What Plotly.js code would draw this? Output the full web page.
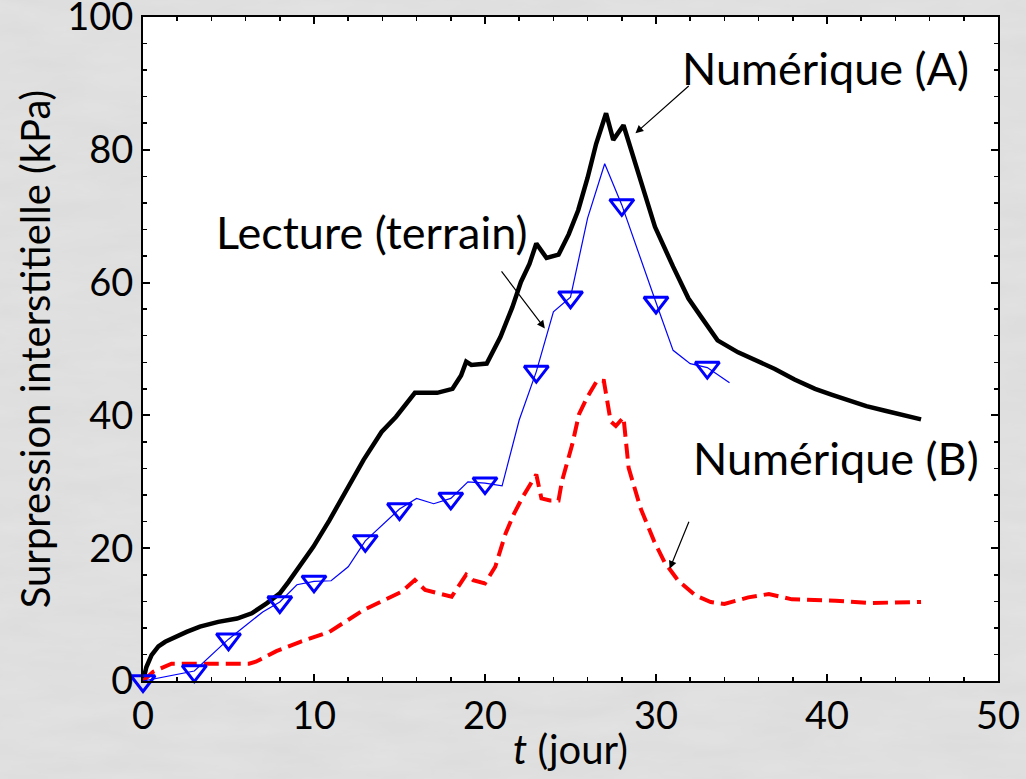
<!DOCTYPE html>
<html>
<head>
<meta charset="utf-8">
<script src="https://cdn.plot.ly/plotly-3.0.1.min.js"></script>
<style>
html,body{margin:0;padding:0;}
body{
  background-color:#e3e3e3;
  background-image:url("data:image/svg+xml;utf8,<svg xmlns='http://www.w3.org/2000/svg' width='1026' height='779'><filter id='n'><feTurbulence type='fractalNoise' baseFrequency='0.012 0.05' numOctaves='4' seed='7'/><feColorMatrix values='0 0 0 0 0.45 0 0 0 0 0.45 0 0 0 0 0.45 0 0 0 0.16 0'/></filter><rect width='100%' height='100%' filter='url(%23n)'/></svg>");
}
#chart{width:1026px;height:779px;}
</style>
</head>
<body>
<div id="chart"></div>
<script>
// Numérique (A)
const numA_t = [0, 0.2, 0.5, 0.9, 1.3, 1.7, 2.55, 3.33, 4.4, 5.5, 6.36, 7.23, 8.0, 8.5, 9.0, 9.5, 9.96, 10.9, 11.9, 12.9, 13.95, 14.8, 15.9, 17.2, 18.1, 18.6, 18.9, 19.2, 20.1, 20.9, 21.6, 22.1, 22.6, 23.0, 23.6, 24.3, 24.9, 25.45, 26.0, 26.5, 27.08, 27.5, 28.1, 28.3, 29.06, 29.94, 31.0, 31.9, 32.65, 33.6, 34.8, 35.8, 36.95, 38.1, 39.3, 40.3, 41.3, 42.3, 43.4, 44.4, 45.5];
const numA_v = [0, 2.1, 3.9, 5.2, 5.9, 6.4, 7.4, 8.2, 8.9, 9.4, 10.2, 11.7, 13.2, 14.9, 16.7, 18.4, 20.2, 24.2, 28.8, 33.3, 37.5, 39.8, 43.4, 43.4, 44.0, 46.0, 48.1, 47.6, 47.8, 51.8, 56.3, 60.1, 62.8, 65.9, 63.7, 64.2, 67.3, 70.9, 75.8, 80.9, 85.5, 81.5, 83.7, 82.0, 76.0, 68.4, 62.4, 57.6, 54.8, 51.3, 49.5, 48.3, 47.0, 45.4, 44.0, 43.1, 42.2, 41.4, 40.7, 40.0, 39.4];

// Numérique (B)
const numB_t = [0, 0.6, 1.67, 6.2, 6.6, 7.8, 9.2, 10.9, 12.9, 13.9, 15.1, 15.9, 16.5, 18.05, 18.9, 19.3, 20.0, 20.6, 21.2, 21.7, 22.2, 23.0, 23.3, 23.8, 24.3, 24.5, 25.1, 25.5, 25.97, 26.57, 26.95, 27.35, 27.65, 28.1, 28.4, 29.1, 29.9, 30.5, 31.3, 32.3, 33.2, 34.0, 35.4, 36.6, 37.95, 40.5, 42.5, 45.5];
const numB_v = [0, 1.4, 2.6, 2.6, 2.9, 4.5, 5.9, 7.4, 10.7, 11.9, 13.4, 15.2, 13.7, 12.7, 16.0, 15.2, 14.7, 17.2, 22.2, 25.2, 27.7, 31.1, 27.5, 27.2, 27.2, 30.1, 35.6, 40.2, 42.7, 45.3, 45.2, 39.1, 38.4, 39.7, 32.1, 26.0, 21.0, 17.9, 15.1, 12.9, 11.9, 11.6, 12.6, 13.1, 12.3, 12.1, 11.75, 11.9];

// Lecture (terrain) – line
const lect_t = [0, 3, 5, 7, 8, 9, 10, 11, 12, 13, 15, 16, 17, 18, 19, 20, 21, 22, 23, 24, 25, 26, 27, 28, 30, 31, 32, 33, 34.3];
const lect_v = [0, 1.5, 6.3, 10.4, 11.9, 14.5, 15.0, 15.1, 17.2, 21.1, 25.9, 27.5, 26.7, 27.5, 30.0, 29.8, 29.4, 39.3, 46.6, 55.6, 57.8, 69.7, 77.9, 71.7, 57.0, 49.8, 47.8, 47.2, 44.9];
// Lecture (terrain) – marked readings
const mark_t = [0, 3, 5, 8, 10, 13, 15, 18, 20, 23, 25, 28, 30, 33];
const mark_v = [0, 1.5, 6.3, 11.9, 15.0, 21.1, 25.9, 27.5, 29.8, 46.6, 57.8, 71.7, 57.0, 47.2];

const xTicks = [0, 10, 20, 30, 40, 50];
const yTicks = [0, 20, 40, 60, 80, 100];

const FONT = 'Lato, "Open Sans", sans-serif';

const traces = [
  {x: numA_t, y: numA_v, mode: 'lines', line: {color: '#000000', width: 4.5}, hoverinfo: 'skip'},
  {x: numB_t, y: numB_v, mode: 'lines', line: {color: '#ff0000', width: 4, dash: '15px,7px'}, hoverinfo: 'skip'},
  {x: lect_t, y: lect_v, mode: 'lines', line: {color: '#0000ff', width: 1.2}, hoverinfo: 'skip'},
  {x: mark_t, y: mark_v, mode: 'markers', marker: {symbol: 'triangle-down-open', size: 21, color: '#0000ff', line: {color: '#0000ff', width: 3}}, hoverinfo: 'skip', cliponaxis: false}
];

const axisCommon = {
  showgrid: false, zeroline: false,
  showline: true, linecolor: '#000', linewidth: 2, mirror: 'ticks',
  ticks: 'inside', ticklen: 7, tickwidth: 2, tickcolor: '#000',
  ticklabeloverflow: 'allow',
  tickfont: {family: FONT, size: 38, color: '#000'}
};

const layout = {
  width: 1026, height: 779,
  margin: {l: 143, r: 28, t: 17, b: 98},
  paper_bgcolor: 'rgba(0,0,0,0)',
  plot_bgcolor: '#ffffff',
  showlegend: false,
  xaxis: Object.assign({}, axisCommon, {
    range: [0, 50], tickvals: xTicks, ticktext: xTicks.map(String),
    minor: {dtick: 2, tick0: 0, ticks: 'inside', ticklen: 4, tickwidth: 1.5, tickcolor: '#000'},
    title: {text: '<i>t</i> (jour)', font: {family: FONT, size: 40, color: '#000'}, standoff: 0}
  }),
  yaxis: Object.assign({}, axisCommon, {
    range: [0, 100], tickvals: yTicks, ticktext: yTicks.map(String),
    minor: {dtick: 4, tick0: 0, ticks: 'inside', ticklen: 4, tickwidth: 1.5, tickcolor: '#000'},
    title: {text: 'Surpression interstitielle (kPa)', font: {family: FONT, size: 40, color: '#000'}, standoff: 4}
  }),
  annotations: [
    {x: 39.9, y: 92.3, xref: 'x', yref: 'y', text: 'Numérique (A)', showarrow: false,
     xanchor: 'center', yanchor: 'middle', font: {family: FONT, size: 45, color: '#000'}},
    {x: 13.4, y: 67.6, xref: 'x', yref: 'y', text: 'Lecture (terrain)', showarrow: false,
     xanchor: 'center', yanchor: 'middle', font: {family: FONT, size: 45, color: '#000'}},
    {x: 40.5, y: 33.6, xref: 'x', yref: 'y', text: 'Numérique (B)', showarrow: false,
     xanchor: 'center', yanchor: 'middle', font: {family: FONT, size: 45, color: '#000'}},
    {x: 28.8, y: 82.5, ax: 32.0, ay: 89.8, xref: 'x', yref: 'y', axref: 'x', ayref: 'y',
     text: '', showarrow: true, arrowhead: 2, arrowsize: 1.3, arrowwidth: 1.2, arrowcolor: '#000'},
    {x: 23.5, y: 53.1, ax: 20.9, ay: 61.9, xref: 'x', yref: 'y', axref: 'x', ayref: 'y',
     text: '', showarrow: true, arrowhead: 2, arrowsize: 1.3, arrowwidth: 1.2, arrowcolor: '#000'},
    {x: 30.8, y: 16.9, ax: 31.96, ay: 24.2, xref: 'x', yref: 'y', axref: 'x', ayref: 'y',
     text: '', showarrow: true, arrowhead: 2, arrowsize: 1.3, arrowwidth: 1.2, arrowcolor: '#000'}
  ]
};

Plotly.newPlot('chart', traces, layout, {staticPlot: true, displayModeBar: false});
</script>
</body>
</html>
